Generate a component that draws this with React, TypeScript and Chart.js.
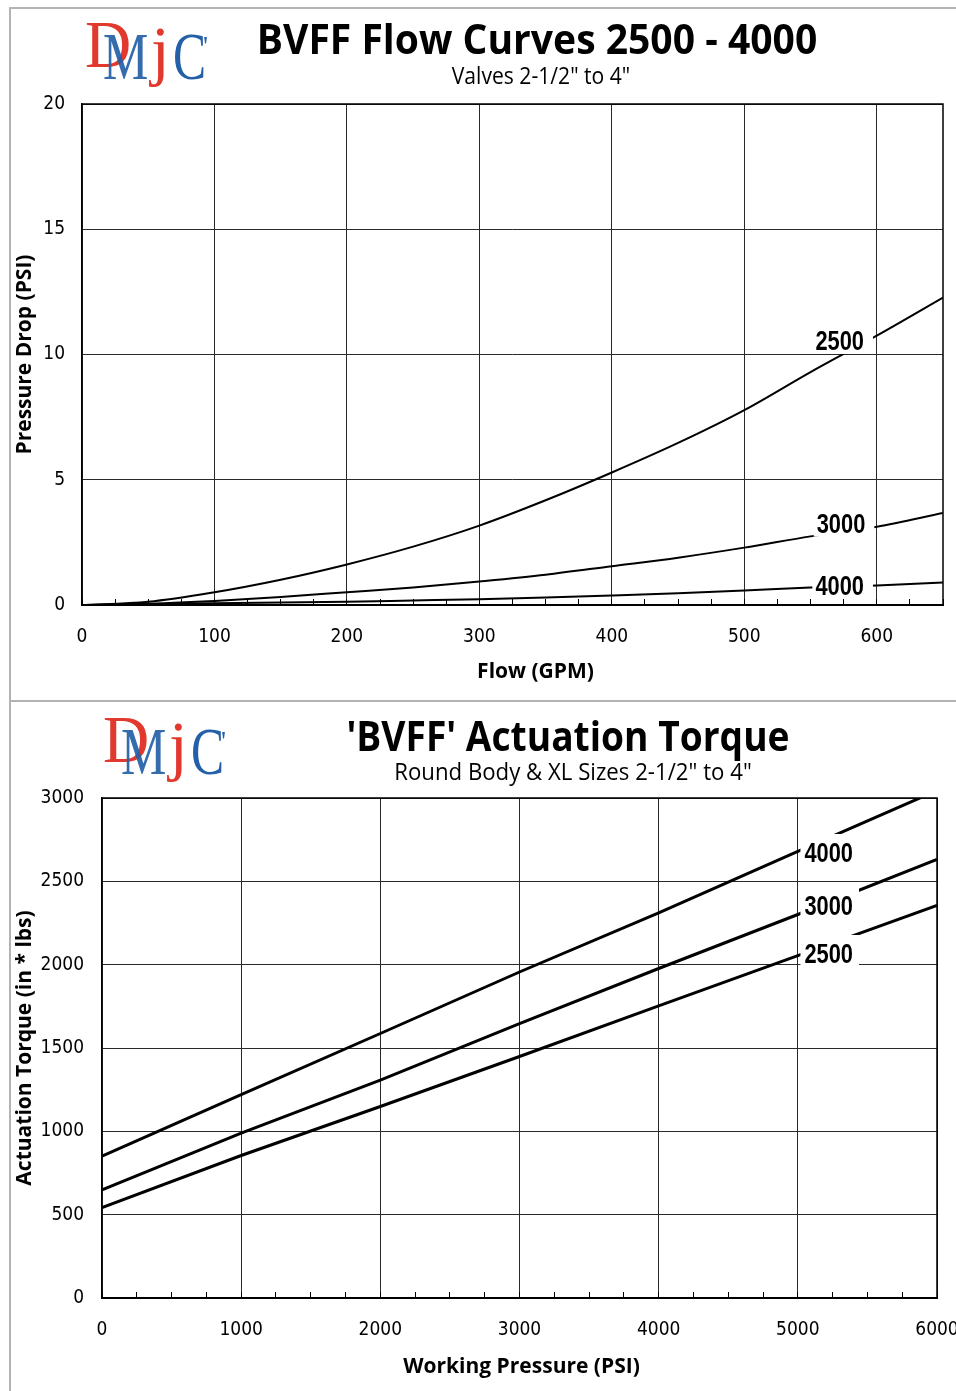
import React, { useEffect, useRef } from "react";
import { Chart, registerables } from "chart.js";

Chart.register(...registerables);

// ---------- Chart 1: BVFF Flow Curves ----------
const flowGpm = [0, 50, 100, 150, 200, 250, 300, 350, 400, 450, 500, 550, 600, 650];
const drop2500 = [0, 0.13, 0.51, 1.01, 1.62, 2.33, 3.17, 4.18, 5.29, 6.47, 7.78, 9.3, 10.75, 12.27];
const drop3000 = [0, 0.05, 0.16, 0.32, 0.51, 0.7, 0.94, 1.21, 1.55, 1.89, 2.29, 2.74, 3.12, 3.67];
const drop4000 = [0, 0.03, 0.07, 0.1, 0.13, 0.18, 0.23, 0.3, 0.38, 0.47, 0.58, 0.7, 0.78, 0.9];
const flowXMajorTicks = [0, 100, 200, 300, 400, 500, 600];
const flowYTicks = [0, 5, 10, 15, 20];
const flowSeriesNames = ["2500", "3000", "4000"];
const flowLabelX = [572, 573, 572];
const flowLabelY = [10.58, 3.29, 0.8];

// ---------- Chart 2: BVFF Actuation Torque ----------
const pressurePsi = [0, 1000, 2000, 3000, 4000, 5000, 6000];
const torque2500 = [543, 855, 1149, 1449, 1753, 2054, 2356];
const torque3000 = [649, 989, 1307, 1646, 1977, 2301, 2631];
const torque4000 = [851, 1220, 1587, 1956, 2311, 2680, 3045];
const torqueXMajorTicks = [0, 1000, 2000, 3000, 4000, 5000, 6000];
const torqueYTicks = [0, 500, 1000, 1500, 2000, 2500, 3000];
const torqueSeriesNames = ["4000", "3000", "2500"];
const torqueLabelX = [5222, 5222, 5222];
const torqueLabelY = [2676, 2358, 2070];

const NARROW = '"DejaVu Sans Condensed", "Liberation Sans", sans-serif';
const LABEL = '"Liberation Sans", Arial, sans-serif';
const SANS = '"Open Sans", "Noto Sans", "DejaVu Sans", sans-serif';
const SERIF = '"Liberation Serif", "DejaVu Serif", serif';

type OverlayOpts = {
  labels: { text: string; x: number; y: number }[];
  labelSize: number;
  padL: number;
  padR: number;
  padT: number;
  padB: number;
  xTitle: string;
  xTitleDx: number;
  xTitleY: number;
};

function overlayPlugin(o: OverlayOpts) {
  return {
    id: "overlay",
    afterDatasetsDraw(chart: any) {
      const ctx = chart.ctx as CanvasRenderingContext2D;
      const xs = chart.scales.x;
      const ys = chart.scales.y;
      const a = chart.chartArea;
      const sx = 0.78;
      ctx.save();
      // curve labels with white box
      ctx.font = `bold ${o.labelSize}px ${LABEL}`;
      const cap = o.labelSize * 0.716;
      for (const l of o.labels) {
        const px = xs.getPixelForValue(l.x);
        const py = ys.getPixelForValue(l.y);
        const w = ctx.measureText(l.text).width * sx;
        ctx.fillStyle = "#ffffff";
        ctx.fillRect(px - w / 2 - o.padL, py - cap / 2 - o.padT, w + o.padL + o.padR, cap + o.padT + o.padB);
        ctx.save();
        ctx.translate(px, py + cap / 2);
        ctx.scale(sx, 1);
        ctx.fillStyle = "#000000";
        ctx.textAlign = "center";
        ctx.textBaseline = "alphabetic";
        ctx.fillText(l.text, 0, 0);
        ctx.restore();
      }
      // top and right frame
      ctx.strokeStyle = "#000";
      ctx.lineWidth = 1.5;
      ctx.beginPath();
      ctx.moveTo(a.left, a.top);
      ctx.lineTo(a.right, a.top);
      ctx.lineTo(a.right, a.bottom);
      ctx.stroke();
      // x-axis title
      ctx.font = `bold 21px ${SANS}`;
      ctx.fillStyle = "#000";
      ctx.textAlign = "center";
      ctx.textBaseline = "middle";
      ctx.fillText(o.xTitle, (a.left + a.right) / 2 + o.xTitleDx, o.xTitleY);
      ctx.restore();
    },
  };
}

type AxisOpts = {
  xMax: number;
  xStep: number;
  xMajor: number[];
  yMax: number;
  yStep: number;
  yTicks: number[];
  yTitle: string;
  yWidth: number;
  xHeight: number;
  padRight: number;
  padTop: number;
  yTickPad: number;
  xTickPad: number;
};

function makeOptions(p: AxisOpts): any {
  return {
    responsive: false,
    animation: false,
    events: [],
    layout: { padding: { top: p.padTop, right: p.padRight, left: 0, bottom: 0 } },
    plugins: { legend: { display: false }, tooltip: { enabled: false }, title: { display: false } },
    scales: {
      x: {
        type: "linear",
        min: 0,
        max: p.xMax,
        border: { display: true, color: "#000", width: 2 },
        grid: {
          color: (c: any) => (c.tick && p.xMajor.includes(c.tick.value) ? "#2a2a2a" : "rgba(0,0,0,0)"),
          tickColor: "#000",
          tickLength: -6,
          lineWidth: 1,
        },
        ticks: {
          stepSize: p.xStep,
          autoSkip: false,
          maxRotation: 0,
          padding: p.xTickPad,
          color: "#000",
          font: { family: NARROW, size: 19 },
          callback: (v: any) => (p.xMajor.includes(Number(v)) ? String(v) : ""),
        },
        afterFit: (s: any) => {
          s.height = p.xHeight;
          s.paddingLeft = 0;
          s.paddingRight = 0;
        },
      },
      y: {
        type: "linear",
        min: 0,
        max: p.yMax,
        border: { display: true, color: "#000", width: 1.5 },
        grid: { color: "#2a2a2a", lineWidth: 1, drawTicks: false },
        ticks: {
          stepSize: p.yStep,
          padding: p.yTickPad,
          color: "#000",
          font: { family: NARROW, size: 19 },
          callback: (v: any) => (p.yTicks.includes(Number(v)) ? String(v) : ""),
        },
        title: {
          display: true,
          text: p.yTitle,
          color: "#000",
          font: { family: SANS, size: 21, weight: "bold" },
          padding: { top: 1, bottom: 0 },
        },
        afterFit: (s: any) => {
          s.width = p.yWidth;
          s.paddingTop = 0;
          s.paddingBottom = 0;
        },
      },
    },
  };
}

function lineSet(xs: number[], ys: number[], width: number, smooth: boolean) {
  return {
    data: xs.map((x, i) => ({ x, y: ys[i] })),
    borderColor: "#000",
    borderWidth: width,
    pointRadius: 0,
    fill: false,
    tension: 0,
    cubicInterpolationMode: smooth ? "monotone" : "default",
  };
}

function flowConfig(): any {
  return {
    type: "line",
    data: {
      datasets: [
        lineSet(flowGpm, drop2500, 2, true),
        lineSet(flowGpm, drop3000, 2, true),
        lineSet(flowGpm, drop4000, 2, true),
      ],
    },
    options: makeOptions({
      xMax: 650,
      xStep: 25,
      xMajor: flowXMajorTicks,
      yMax: 20,
      yStep: 5,
      yTicks: flowYTicks,
      yTitle: "Pressure Drop (PSI)",
      yWidth: 71,
      xHeight: 95,
      padRight: 13,
      padTop: 95,
      yTickPad: 17,
      xTickPad: 27,
    }),
    plugins: [
      overlayPlugin({
        labels: flowSeriesNames.map((t, i) => ({ text: t, x: flowLabelX[i], y: flowLabelY[i] })),
        labelSize: 28,
        padL: 3,
        padR: 9,
        padT: 3,
        padB: 4,
        xTitle: "Flow (GPM)",
        xTitleDx: 23,
        xTitleY: 663,
      }),
    ],
  };
}

function torqueConfig(): any {
  return {
    type: "line",
    data: {
      datasets: [
        lineSet(pressurePsi, torque2500, 3, false),
        lineSet(pressurePsi, torque3000, 3, false),
        lineSet(pressurePsi, torque4000, 3, false),
      ],
    },
    options: makeOptions({
      xMax: 6000,
      xStep: 250,
      xMajor: torqueXMajorTicks,
      yMax: 3000,
      yStep: 500,
      yTicks: torqueYTicks,
      yTitle: "Actuation Torque (in * lbs)",
      yWidth: 91,
      xHeight: 93,
      padRight: 19,
      padTop: 96,
      yTickPad: 18,
      xTickPad: 27,
    }),
    plugins: [
      overlayPlugin({
        labels: torqueSeriesNames.map((t, i) => ({ text: t, x: torqueLabelX[i], y: torqueLabelY[i] })),
        labelSize: 28,
        padL: 4,
        padR: 6,
        padT: 8,
        padB: 4,
        xTitle: "Working Pressure (PSI)",
        xTitleDx: 2,
        xTitleY: 665,
      }),
    ],
  };
}

function ChartCanvas(props: { left: number; top: number; width: number; height: number; make: () => any }) {
  const ref = useRef<HTMLCanvasElement>(null);
  useEffect(() => {
    const chart = new Chart(ref.current as HTMLCanvasElement, props.make());
    return () => chart.destroy();
  }, []);
  return (
    <canvas
      ref={ref}
      width={props.width}
      height={props.height}
      style={{ position: "absolute", left: props.left, top: props.top, width: props.width, height: props.height }}
    />
  );
}

function CenterText(props: {
  cx: number;
  cy: number;
  text: string;
  size: number;
  weight: number;
  scale: number;
}) {
  return (
    <div
      style={{
        position: "absolute",
        left: props.cx,
        top: props.cy,
        transform: `translate(-50%, -50%) scaleX(${props.scale})`,
        fontFamily: SANS,
        fontSize: props.size,
        fontWeight: props.weight,
        lineHeight: 1,
        whiteSpace: "nowrap",
        color: "#000",
      }}
    >
      {props.text}
    </div>
  );
}

function Logo(props: { x: number; y: number }) {
  const red = "#e2392e";
  const blue = "#2460a8";
  const base: React.CSSProperties = {
    position: "absolute",
    fontFamily: SERIF,
    lineHeight: 1,
    whiteSpace: "nowrap",
    transformOrigin: "left top",
  };
  return (
    <div style={{ position: "absolute", left: props.x, top: props.y, width: 128, height: 70 }}>
      <span style={{ ...base, left: 2, top: -10, fontSize: 68, color: red, transform: "scaleX(0.94)" }}>D</span>
      <span style={{ ...base, left: 20, top: 2, fontSize: 68, color: blue, transform: "scaleX(0.75)", opacity: 0.92 }}>M</span>
      <span style={{ ...base, left: 68, top: -3, fontSize: 67, color: red }}>j</span>
      <span style={{ ...base, left: 90, top: 2, fontSize: 68, color: blue, transform: "scaleX(0.73)" }}>C</span>
      <span style={{ ...base, left: 120, top: 12, fontSize: 28, color: blue }}>'</span>
    </div>
  );
}

export default function App() {
  const line = "#b3b3b3";
  return (
    <div style={{ position: "absolute", left: 0, top: 0, width: 956, height: 1391, overflow: "hidden", background: "#fff" }}>
      {/* frame lines */}
      <div style={{ position: "absolute", left: 9, top: 7, width: 2, height: 1384, background: line }} />
      <div style={{ position: "absolute", left: 9, top: 7, width: 947, height: 2, background: line }} />
      <div style={{ position: "absolute", left: 9, top: 700, width: 947, height: 2, background: line }} />

      <ChartCanvas left={11} top={9} width={945} height={691} make={flowConfig} />
      <ChartCanvas left={11} top={702} width={945} height={689} make={torqueConfig} />

      <Logo x={83} y={20} />
      <CenterText cx={537} cy={38} text="BVFF Flow Curves 2500 - 4000" size={42} weight={700} scale={0.93} />
      <CenterText cx={541} cy={75} text={'Valves 2-1/2" to 4"'} size={24} weight={400} scale={0.88} />

      <Logo x={101} y={715} />
      <CenterText cx={568} cy={735} text="'BVFF' Actuation Torque" size={42} weight={700} scale={0.885} />
      <CenterText cx={573} cy={771} text={'Round Body & XL Sizes 2-1/2" to 4"'} size={24} weight={400} scale={0.925} />
    </div>
  );
}
